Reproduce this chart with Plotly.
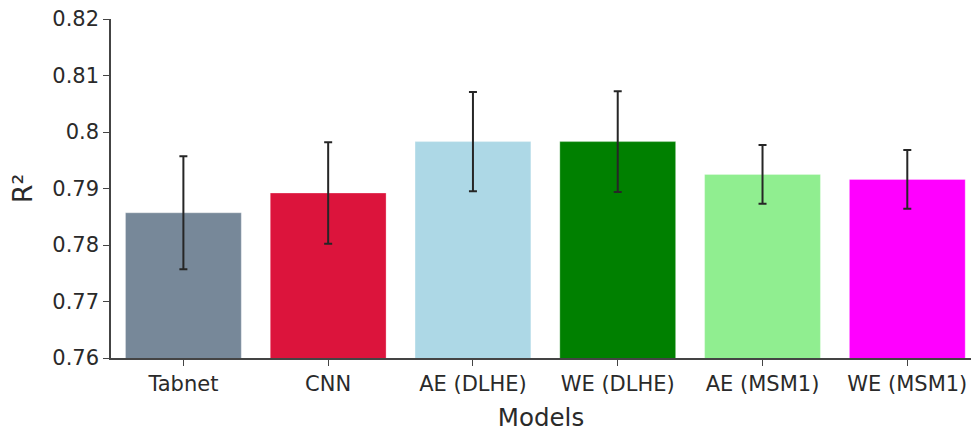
import plotly.graph_objects as go

# Model comparison: mean R² with standard deviation
models = ["Tabnet", "CNN", "AE (DLHE)", "WE (DLHE)", "AE (MSM1)", "WE (MSM1)"]
r2_mean = [0.7857, 0.7892, 0.7983, 0.7983, 0.7925, 0.7916]
r2_std = [0.0100, 0.0090, 0.0088, 0.0089, 0.0052, 0.0052]
bar_colors = ["lightslategray", "crimson", "lightblue", "green", "lightgreen", "magenta"]
y_ticks = [0.76, 0.77, 0.78, 0.79, 0.8, 0.81, 0.82]

font_family = "Verdana, DejaVu Sans, sans-serif"

fig = go.Figure(
    go.Bar(
        x=models,
        y=r2_mean,
        marker=dict(color=bar_colors, line=dict(width=0.5, color="rgba(255,255,255,0.6)")),
        error_y=dict(type="data", array=r2_std, visible=True,
                     color="#262626", thickness=2, width=4),
        showlegend=False,
    )
)

fig.update_layout(
    width=971,
    height=432,
    margin=dict(l=111, r=0, t=19, b=74),
    plot_bgcolor="white",
    paper_bgcolor="white",
    bargap=0.2,
    font=dict(family=font_family, size=21, color="#2a2a2a"),
)

fig.update_xaxes(
    title=dict(text="Models", font=dict(size=24.5), standoff=15),
    range=[-0.5, 5.44],
    showline=True, linecolor="#444", linewidth=1.5,
    ticks="outside", ticklen=6, tickcolor="#444",
    showgrid=False,
)
fig.update_yaxes(
    title=dict(text="R²", font=dict(size=27), standoff=12),
    range=[0.76, 0.82],
    tickvals=y_ticks,
    ticktext=[f"{v:g}" for v in y_ticks],
    showline=True, linecolor="#444", linewidth=1.5,
    ticks="outside", ticklen=6, tickcolor="#444",
    showgrid=False, zeroline=False,
)

fig.write_html("out.html")
